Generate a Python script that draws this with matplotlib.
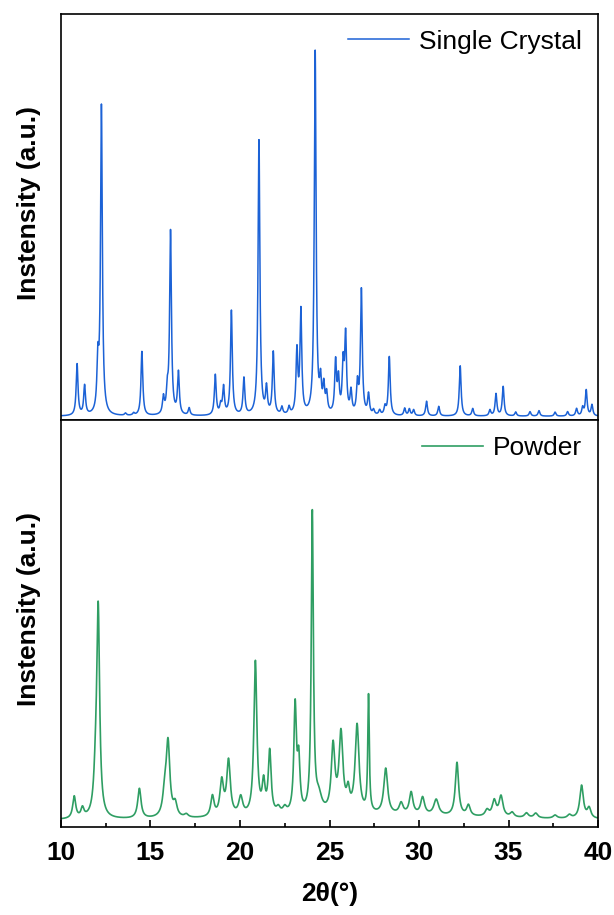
import numpy as np
import matplotlib
matplotlib.use("Agg")
import matplotlib.pyplot as plt
from matplotlib.ticker import MultipleLocator

# ---- data: peak lists (2theta, height, FWHM) ----
sc_pos = [10.9, 11.32, 12.06, 12.26, 13.6, 14.06, 14.52, 15.72, 15.94, 16.12, 16.56, 17.16,
          18.62, 18.92, 19.08, 19.52, 20.22, 21.06, 21.48, 21.86, 22.34, 22.74, 23.18, 23.4,
          24.2, 24.5, 24.68, 24.84, 25.34, 25.5, 25.76, 25.9, 26.2, 26.56, 26.78, 27.18,
          27.46, 27.8, 28.1, 28.34, 29.2, 29.46, 29.7, 30.42, 31.1, 32.3, 33.0, 33.96,
          34.3, 34.7, 35.4, 36.2, 36.7, 37.6, 38.3, 38.8, 39.14, 39.34, 39.66]
sc_height = [14, 8, 13, 84, 0.6, 0.6, 17.5, 4.5, 5.5, 50, 11.5, 2,
             11, 2.5, 7.5, 28.5, 10, 75, 7, 17, 2, 2, 17, 28,
             99, 8, 7, 5, 14, 9, 13, 21, 6, 8, 34, 5.5,
             1.3, 1.3, 2.2, 16, 2, 1.8, 1.6, 4, 2.6, 13.7, 2, 1.6,
             6, 8, 1.1, 1.2, 1.5, 1.1, 1.2, 2, 2.2, 7, 3]
sc_width = 0.12

pw_pos = [10.74, 11.2, 11.94, 12.08, 14.38, 15.8, 15.98, 16.38, 17.0, 18.46, 18.98, 19.36,
          20.04, 20.86, 21.32, 21.66, 22.14, 22.5, 23.08, 23.28, 24.04, 24.4, 25.2, 25.64,
          26.04, 26.54, 27.18, 28.14, 29.0, 29.56, 30.2, 30.96, 32.12, 32.76, 33.8, 34.2,
          34.58, 35.2, 36.0, 36.52, 37.6, 38.4, 39.08, 39.5, 28.0]
pw_height = [7, 3, 11, 64.5, 9.5, 7, 23, 4, 1, 6.5, 11, 17.5,
             5.8, 49, 9.5, 20, 2, 2, 34, 16, 95.5, 5, 21, 25,
             6, 28, 37, 14.5, 3.5, 7, 5.5, 5, 17, 3.4, 2, 5,
             6.5, 1.5, 1.5, 1.5, 1, 1.1, 10.5, 3.2, 1.5]
pw_width = [0.2, 0.2, 0.25, 0.19, 0.22, 0.26, 0.24, 0.24, 0.26, 0.22, 0.24, 0.24,
            0.26, 0.2, 0.19, 0.19, 0.26, 0.26, 0.17, 0.17, 0.14, 0.4, 0.24, 0.26,
            0.2, 0.26, 0.1, 0.26, 0.26, 0.24, 0.26, 0.32, 0.22, 0.24, 0.26, 0.26,
            0.26, 0.26, 0.26, 0.26, 0.26, 0.26, 0.24, 0.24, 14.0]

sc_label = "Single Crystal"
pw_label = "Powder"
x_ticks = [10, 15, 20, 25, 30, 35, 40]


def profile(x, pos, height, width):
    y = np.zeros_like(x)
    width = np.broadcast_to(np.asarray(width, dtype=float), (len(pos),))
    for p, h, w in zip(pos, height, width):
        g = w / 2.0
        y += h * g**2 / ((x - p)**2 + g**2)
    return y


x = np.arange(10.0, 40.0001, 0.005)
y_sc = profile(x, sc_pos, sc_height, sc_width)
y_pw = profile(x, pw_pos, pw_height, pw_width)

plt.rcParams['font.family'] = ['Liberation Sans', 'DejaVu Sans']

fig = plt.figure(figsize=(6.14, 9.15), dpi=100)
left, right = 0.0993, 0.974
ax1 = fig.add_axes([left, 0.541, right - left, 0.985 - 0.541])
ax2 = fig.add_axes([left, 0.0962, right - left, 0.541 - 0.0962], sharex=ax1)

blue = "#1c62d6"
green = "#2f9e63"
ax1.plot(x, y_sc, color=blue, lw=1.1, label=sc_label)
ax2.plot(x, y_pw, color=green, lw=1.2, label=pw_label)

ax1.set_xlim(10, 40)
ax1.set_ylim(-1, 109.8)
ax2.set_ylim(-2.1, 127.5)

for ax in (ax1, ax2):
    for s in ax.spines.values():
        s.set_linewidth(1.2)
        s.set_color("black")
    ax.set_yticks([])
    ax.set_ylabel("Instensity (a.u.)", fontsize=19, fontweight='bold')
    ax.yaxis.set_label_coords(-0.037, 0.535)
    ax.legend(loc='upper right', frameon=False, fontsize=19, handlelength=2.3,
              handletextpad=0.4, borderaxespad=0.2)

ax1.tick_params(axis='x', which='both', bottom=False, labelbottom=False)
ax2.set_xticks(x_ticks)
ax2.xaxis.set_minor_locator(MultipleLocator(2.5))
ax2.tick_params(axis='x', which='major', direction='in', length=5, width=1.2, pad=10,
                labelsize=19)
ax2.tick_params(axis='x', which='minor', direction='in', length=3, width=1.2)
for lab in ax2.get_xticklabels():
    lab.set_fontweight('bold')
ax2.set_xlabel("2θ(°)", fontsize=19, fontweight='bold', labelpad=12)

fig.savefig("out.png", dpi=100)
